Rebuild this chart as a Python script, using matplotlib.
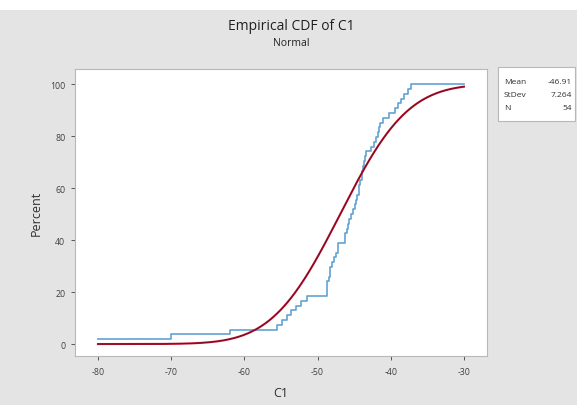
import numpy as np
import matplotlib
matplotlib.use("Agg")
import matplotlib.pyplot as plt
from matplotlib.patches import Rectangle
import math

# Sorted sample values (N = 54)
c1_values = [-80.0, -70.0, -62.0,
             -55.6, -54.8, -54.2, -53.6, -53.0, -52.3, -51.5,
             -48.7, -48.7, -48.7,
             -48.5, -48.3, -48.3, -48.0, -47.7, -47.5, -47.2, -47.2,
             -46.3, -46.2, -46.0, -45.9,
             -45.7, -45.4, -45.1, -44.9, -44.8,
             -44.6, -44.4, -44.3, -44.2,
             -44.0, -43.9, -43.8, -43.6, -43.5, -43.4,
             -42.7, -42.3, -42.0, -41.8, -41.6, -41.5,
             -41.0, -40.2, -39.4,
             -39.0, -38.6,
             -38.2, -37.7, -37.2]
fit_mean = -46.91
fit_stdev = 7.264
n_label = 54
x_ticks = [-80, -70, -60, -50, -40, -30]
y_ticks = [0, 20, 40, 60, 80, 100]
x_range = (-80, -30)

plt.rcParams['font.family'] = ['Open Sans', 'DejaVu Sans']

W, H = 577, 406
fig = plt.figure(figsize=(W / 100, H / 100), dpi=100)
fig.patch.set_facecolor('#e4e4e4')
fig.patches.append(Rectangle((0, 1 - 11 / H), 1, 11 / H, transform=fig.transFigure,
                             facecolor='white', edgecolor='none', zorder=0))

ax = fig.add_axes([75 / W, 1 - 357 / H, (487 - 75) / W, (357 - 70) / H])
ax.set_facecolor('white')

data = np.sort(np.array(c1_values))
n = len(data)
ecdf = np.arange(1, n + 1) / n * 100
xs = np.concatenate([data, [x_range[1]]])
ys = np.concatenate([ecdf, [100]])
ax.plot(xs, ys, drawstyle='steps-post', color='#62a3d2', lw=1.2, zorder=2)

xf = np.linspace(x_range[0], x_range[1], 400)
yf = [50 * (1 + math.erf((v - fit_mean) / (fit_stdev * math.sqrt(2)))) for v in xf]
ax.plot(xf, yf, color='#c0102c', lw=1.5, zorder=3)
ax.plot(xf, yf, color='#5a1020', lw=0.5, zorder=4)

ax.set_xlim(-83.14, -26.86)
ax.set_ylim(-4.6, 105.8)
ax.set_xticks(x_ticks)
ax.set_yticks(y_ticks)
ax.set_xticklabels([str(t) for t in x_ticks])
ax.tick_params(axis='both', labelsize=6.3, colors='#404040', length=3, width=0.6)
ax.tick_params(axis='x', pad=5)
ax.tick_params(axis='y', pad=4)
for s in ax.spines.values():
    s.set_color('#b8b8b8')
    s.set_linewidth(0.8)

ax.set_xlabel('C1', fontsize=9, color='#303030', labelpad=7)
ax.set_ylabel('Percent', fontsize=9, color='#303030', labelpad=5)

fig.text(291 / W, 1 - 27 / H, 'Empirical CDF of C1', ha='center', va='center',
         fontsize=10, color='#202020')
fig.text(291 / W, 1 - 43 / H, 'Normal', ha='center', va='center',
         fontsize=7.5, color='#202020')

# Stats box
bx0, by0, bx1, by1 = 498, 68, 575, 122
fig.patches.append(Rectangle((bx0 / W, 1 - by1 / H), (bx1 - bx0) / W, (by1 - by0) / H,
                             transform=fig.transFigure, facecolor='white',
                             edgecolor='#b8b8b8', lw=0.8, zorder=1))
rows = [('Mean', f'{fit_mean:.2f}'), ('StDev', f'{fit_stdev:.3f}'), ('N', f'{n_label}')]
for i, (k, v) in enumerate(rows):
    yy = 1 - (83 + i * 13) / H
    fig.text(504 / W, yy, k, ha='left', va='center', fontsize=6, color='#303030', zorder=2)
    fig.text(572 / W, yy, v, ha='right', va='center', fontsize=6, color='#303030', zorder=2)

fig.savefig('out.png', dpi=100, facecolor=fig.get_facecolor())
